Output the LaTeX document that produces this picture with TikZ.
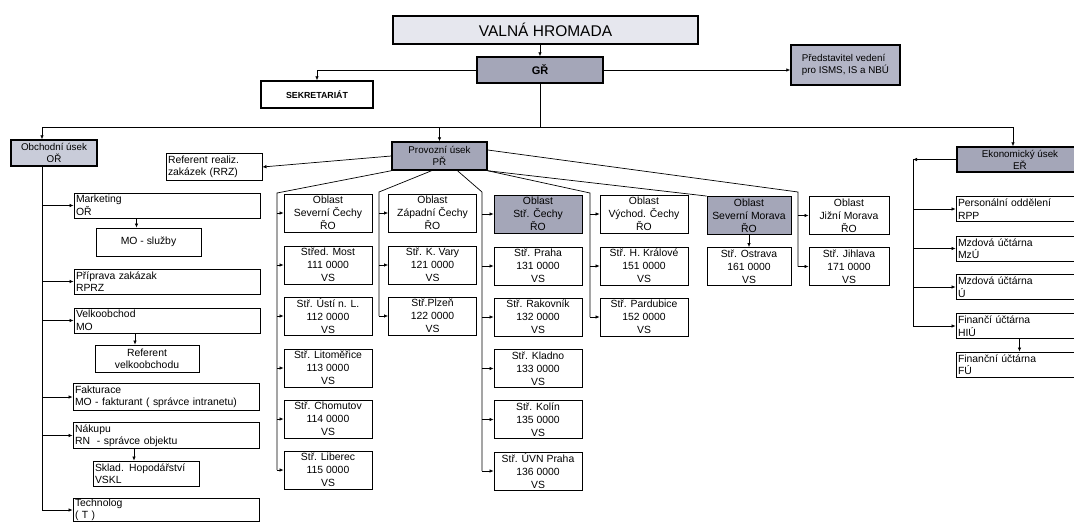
\documentclass[tikz,border=0pt]{standalone}
\usepackage{fontspec}
\setmainfont{Liberation Sans}
\usetikzlibrary{arrows.meta}
\definecolor{valna}{HTML}{E6E7EE}
\definecolor{vedeni}{HTML}{A4A6B8}
\definecolor{obchod}{HTML}{C9CCD9}
\definecolor{predstav}{HTML}{B3B5C6}

\begin{document}
\begin{tikzpicture}[x=1pt, y=-1pt, line width=0.7pt, >={Latex[length=4pt,width=3.6pt]},
  box/.style={draw, line width=0.9pt, fill=#1, align=center, inner sep=1pt, minimum width=88pt, minimum height=38pt, font=\fontsize{10.4}{13}\selectfont},
  box/.default=white,
  lbox/.style={draw, line width=0.9pt, fill=white, align=left, inner sep=2pt, text width=#1, minimum height=25pt, font=\fontsize{10.4}{12.5}\selectfont},
  lbox/.default=182pt,
  usek/.style={draw, line width=1.5pt, fill=#1, align=center, inner sep=1pt, font=\fontsize{9.8}{12}\selectfont},
  usek/.default=vedeni]
\useasboundingbox (0,0) rectangle (1074,522);

% vedeni
\node[usek=valna, minimum width=305pt, minimum height=28pt, font=\fontsize{15.5}{18}\selectfont] (vh) at (545.5,30) {VALNÁ HROMADA};
\node[usek, minimum width=126pt, minimum height=26pt, font=\bfseries\fontsize{11}{13}\selectfont] (gr) at (540,70) {GŘ};
\node[usek=white, minimum width=112pt, minimum height=27pt, font=\bfseries\fontsize{8.8}{10}\selectfont] (sek) at (317,94.5) {SEKRETARIÁT};
\node[usek=predstav, minimum width=109pt, minimum height=40pt, align=left] (pred) at (845.5,65) {Představitel vedení\\pro ISMS, IS a NBÚ};
\node[usek=obchod, minimum width=86pt, minimum height=26pt] (ob) at (54,153) {Obchodní úsek\\OŘ};
\node[usek, minimum width=95pt, minimum height=28pt] (pr) at (439.5,156) {Provozní úsek\\PŘ};
\node[usek, minimum width=126pt, minimum height=25pt] (ek) at (1020,159.5) {Ekonomický úsek\\EŘ};

% obchodni usek
\node[lbox=92pt] (rrz) at (214,167) {Referent realiz.\\zakázek (RRZ)};
\node[lbox] (mkt) at (167,205.5) {Marketing\\OŘ};
\node[box, minimum width=105pt, minimum height=28pt] (mosl) at (148.5,242) {MO - služby};
\node[lbox] (prip) at (167,281.5) {Příprava zakázak\\RPRZ};
\node[lbox] (velk) at (167,320.5) {Velkoobchod\\MO};
\node[box, minimum width=104pt, minimum height=27pt, font=\fontsize{10.4}{12}\selectfont] (refv) at (147,358.5) {Referent\\velkoobchodu};
\node[lbox] (fakt) at (166,397) {Fakturace\\MO - fakturant ( správce intranetu)};
\node[lbox] (nak) at (166,435.5) {Nákupu\\RN\ \ - správce objektu};
\node[lbox=102pt] (sklad) at (146,473.5) {Sklad. Hopodářství\\VSKL};
\node[lbox, inner ysep=1pt, minimum height=23pt, font=\fontsize{10.4}{11.5}\selectfont] (tech) at (166,510) {Technolog\\( T )};

% provozni usek - oblasti a strediska
\node[box] (sc) at (328,213) {Oblast\\Severní Čechy\\ŘO};
\node[box] (most) at (328,265) {Střed. Most\\111 0000\\VS};
\node[box] (usti) at (328,316) {Stř. Ústí n. L.\\112 0000\\VS};
\node[box] (lit) at (328,368) {Stř. Litoměřice\\113 0000\\VS};
\node[box] (chom) at (328,419) {Stř. Chomutov\\114 0000\\VS};
\node[box] (lib) at (328,470) {Stř. Liberec\\115 0000\\VS};

\node[box] (zc) at (432.5,213) {Oblast\\Západní Čechy\\ŘO};
\node[box] (kv) at (432.5,265) {Stř. K. Vary\\121 0000\\VS};
\node[box] (plz) at (432.5,316) {Stř.Plzeň\\122 0000\\VS};

\node[box=vedeni] (stc) at (538,214) {Oblast\\Stř. Čechy\\ŘO};
\node[box] (pha) at (538,266) {Stř. Praha\\131 0000\\VS};
\node[box] (rak) at (538,317) {Stř. Rakovník\\132 0000\\VS};
\node[box] (kla) at (538,368.5) {Stř. Kladno\\133 0000\\VS};
\node[box] (kol) at (538,419.5) {Stř. Kolín\\135 0000\\VS};
\node[box] (uvn) at (538,471) {Stř. ÚVN Praha\\136 0000\\VS};

\node[box] (vc) at (644,214) {Oblast\\Východ. Čechy\\ŘO};
\node[box] (hk) at (644,266) {Stř. H. Králové\\151 0000\\VS};
\node[box] (pard) at (644,317) {Stř. Pardubice\\152 0000\\VS};

\node[box=vedeni, minimum width=84pt] (sm) at (749,215.5) {Oblast\\Severní Morava\\ŘO};
\node[box, minimum width=84pt] (ost) at (749,266.5) {Stř. Ostrava\\161 0000\\VS};
\node[box, minimum width=80pt] (jm) at (849,215.5) {Oblast\\Jižní Morava\\ŘO};
\node[box, minimum width=80pt] (jih) at (849,266.5) {Stř. Jihlava\\171 0000\\VS};

% ekonomicky usek
\node[lbox=123pt, minimum height=24pt] (pers) at (1019.5,209) {Personální oddělení\\RPP};
\node[lbox=123pt] (mzu) at (1019.5,248.5) {Mzdová účtárna\\MzÚ};
\node[lbox=123pt] (uct) at (1019.5,287) {Mzdová účtárna\\Ú};
\node[lbox=123pt] (hiu) at (1019.5,326) {Finančí účtárna\\HIÚ};
\node[lbox=123pt] (fu) at (1019.5,364.5) {Finanční účtárna\\FÚ};

% sbernice
\coordinate (hub) at (540,127);
\coordinate (hl) at (42,127);
\coordinate (hr) at (1013,127);
\coordinate (s1) at (277,193);
\coordinate (s2) at (379,192);
\coordinate (s3) at (482,192);
\coordinate (s4) at (590,193);
\coordinate (s6) at (798,192);
\coordinate (eb) at (913,159);

\draw[->] (gr.north |- vh.south) -- (gr.north);
\draw[->] (gr.west) -| (sek.north);
\draw[->] (gr.east) -- (gr.east -| pred.west);
\draw (gr.south) -- (hub);
\draw (hl) -- (hr);
\draw[->] (hl) -- (hl |- ob.north);
\draw[->] (hub -| pr.north) -- (pr.north);
\draw[->] (hr) -- (hr |- ek.north);

\draw (hl |- ob.south) -- (hl |- tech.west);
\foreach \n in {mkt,prip,velk,fakt,nak,tech} \draw[->] (hl |- \n.west) -- (\n.west);
\foreach \a/\b in {mkt/mosl, velk/refv, nak/sklad} \draw[->] ([xshift=-12pt]\b.north |- \a.south) -- ([xshift=-12pt]\b.north);

\draw[->] (pr.west) -- (rrz.east);
\draw (pr.south west) -- (s1) -- (s1 |- lib.west);
\foreach \n in {sc,most,usti,lit,chom,lib} \draw[->] (s1 |- \n.west) -- (\n.west);
\draw ([xshift=-8pt]pr.south) -- (s2) -- (s2 |- plz.west);
\foreach \n in {zc,kv,plz} \draw[->] (s2 |- \n.west) -- (\n.west);
\draw ([xshift=18pt]pr.south) -- (s3) -- (s3 |- uvn.west);
\foreach \n in {stc,pha,rak,kla,kol,uvn} \draw[->] (s3 |- \n.west) -- (\n.west);
\draw (pr.south east) -- (s4) -- (s4 |- pard.west);
\foreach \n in {vc,hk,pard} \draw[->] (s4 |- \n.west) -- (\n.west);
\draw (pr.south east) -- (sm.north west);
\draw[->] (sm.south) -- (ost.north);
\draw ([yshift=6pt]pr.east) -- (s6) -- (s6 |- jih.west);
\foreach \n in {jm,jih} \draw[->] (s6 |- \n.west) -- (\n.west);

\draw[->] (ek.west) -- (ek.west -| eb);
\draw (eb) -- (eb |- hiu.west);
\foreach \n in {pers,mzu,uct,hiu} \draw[->] (eb |- \n.west) -- (\n.west);
\draw[->] (hiu.south) -- (fu.north);
\end{tikzpicture}
\end{document}
